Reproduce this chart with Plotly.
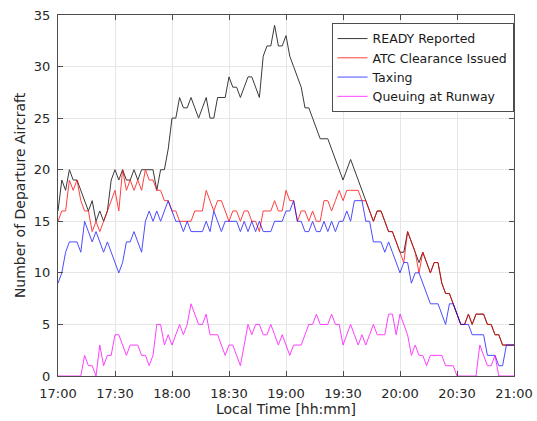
import plotly.graph_objects as go
import pandas as pd

# time axis: 17:00 to 21:00 every 2 minutes
times = pd.date_range("2021-01-01 17:00", "2021-01-01 21:00", freq="2min")

series_names = ["READY Reported", "ATC Clearance Issued", "Taxing", "Queuing at Runway"]

ready_reported = [
    16, 19, 18, 20, 19, 19, 18, 17, 16, 17,
    15, 16, 15, 16, 19, 20, 19, 20, 19, 19,
    20, 19, 20, 20, 20, 20, 18, 20, 20, 22,
    25, 25, 27, 26, 26, 27, 26, 25, 26, 27,
    25, 25, 27, 27, 27, 29, 28, 28, 27, 28,
    29, 29, 28, 27, 31, 32, 32, 34, 32, 32,
    33, 31, 30, 29, 28, 26, 26, 25, 24, 23,
    23, 23, 22, 21, 20, 19, 20, 21, 20, 19,
    18, 17, 16, 15, 16, 16, 15, 14, 14, 13,
    12, 12, 14, 13, 12, 11, 12, 11, 10, 11,
    11, 9, 8, 8, 7, 6, 5, 5, 6, 5,
    6, 6, 6, 5, 5, 4, 4, 3, 3, 3,
    3,
]

atc_clearance = [
    15, 16, 16, 19, 18, 19, 17, 16, 16, 14,
    15, 14, 15, 16, 17, 18, 16, 20, 18, 19,
    18, 19, 18, 20, 19, 19, 18, 18, 17, 17,
    16, 16, 15, 15, 15, 15, 16, 16, 16, 18,
    17, 16, 17, 17, 16, 15, 16, 16, 15, 16,
    16, 15, 15, 14, 16, 16, 16, 17, 16, 16,
    18, 17, 17, 15, 16, 16, 15, 16, 15, 15,
    17, 17, 16, 17, 18, 17, 18, 18, 18, 18,
    17, 17, 16, 15, 16, 16, 15, 14, 14, 13,
    12, 11, 14, 13, 12, 10, 12, 11, 10, 11,
    11, 9, 8, 8, 7, 6, 5, 5, 6, 5,
    6, 6, 6, 5, 5, 4, 4, 3, 3, 3,
    3,
]

taxing = [
    9, 10, 12, 13, 13, 13, 12, 15, 14, 13,
    14, 13, 12, 13, 12, 11, 10, 11, 13, 13,
    14, 13, 12, 15, 16, 15, 16, 15, 16, 17,
    16, 15, 15, 14, 15, 14, 14, 14, 14, 15,
    14, 16, 15, 14, 15, 15, 15, 15, 14, 15,
    14, 15, 14, 15, 14, 14, 14, 15, 15, 15,
    16, 16, 17, 15, 15, 14, 14, 15, 14, 14,
    15, 14, 15, 14, 15, 15, 16, 15, 17, 17,
    17, 15, 15, 13, 13, 13, 12, 13, 12, 11,
    10, 11, 11, 9, 10, 10, 9, 8, 7, 7,
    7, 6, 5, 7, 7, 6, 5, 5, 5, 4,
    4, 4, 4, 2, 2, 2, 1, 1, 3, 3,
    3,
]

queuing = [
    0, 0, 0, 0, 0, 0, 0, 2, 1, 1,
    0, 3, 1, 2, 2, 4, 4, 3, 2, 3,
    3, 3, 2, 2, 1, 2, 5, 5, 3, 4,
    3, 4, 5, 4, 5, 7, 6, 5, 5, 6,
    4, 4, 4, 3, 2, 3, 3, 2, 1, 3,
    5, 4, 5, 5, 4, 4, 5, 4, 3, 4,
    3, 2, 3, 3, 3, 4, 5, 5, 6, 5,
    5, 5, 6, 5, 5, 3, 4, 5, 4, 3,
    4, 3, 4, 5, 4, 4, 4, 6, 6, 4,
    6, 5, 4, 2, 3, 2, 2, 1, 2, 2,
    2, 2, 1, 1, 1, 0, 0, 0, 0, 0,
    0, 3, 2, 1, 1, 2, 0, 0, 0, 0,
    0,
]

line_colors = ["#3a3a3a", "#ff0000", "#0000ff", "#ff00ff"]
line_opacity = [1.0, 0.75, 0.7, 0.75]

x_tick_labels = ["17:00", "17:30", "18:00", "18:30", "19:00", "19:30", "20:00", "20:30", "21:00"]
x_tick_vals = [pd.Timestamp("2021-01-01 " + t) for t in x_tick_labels]
y_tick_vals = [0, 5, 10, 15, 20, 25, 30, 35]

fig = go.Figure()
for name, vals, col, op in zip(series_names, [ready_reported, atc_clearance, taxing, queuing],
                               line_colors, line_opacity):
    fig.add_trace(go.Scatter(x=times, y=vals, mode="lines", name=name, opacity=op,
                             line=dict(color=col, width=1)))

font_family = "DejaVu Sans"
axis_common = dict(
    showline=True, linecolor="#4d4d4d", linewidth=1, mirror="ticks",
    ticks="inside", ticklen=5, tickcolor="#4d4d4d",
    showgrid=True, gridcolor="#e6e6e6", gridwidth=1, zeroline=False,
    automargin=False,
    tickfont=dict(family=font_family, size=13, color="#262626"),
)

fig.update_layout(
    width=537, height=421,
    margin=dict(l=58, r=23, t=15, b=45),
    paper_bgcolor="white", plot_bgcolor="white",
    font=dict(family=font_family, color="#262626"),
    showlegend=True,
    legend=dict(
        x=0.999, xanchor="right", y=0.978, yanchor="top",
        bgcolor="white", bordercolor="#4d4d4d", borderwidth=1,
        font=dict(family=font_family, size=12.5, color="#1a1a1a"),
        tracegroupgap=0,
    ),
)
fig.update_xaxes(
    range=[x_tick_vals[0], x_tick_vals[-1]],
    tickvals=x_tick_vals, ticktext=x_tick_labels,
    ticklabelstandoff=5,
    title=dict(text="Local Time [hh:mm]", font=dict(family=font_family, size=14, color="#262626"), standoff=4),
    **axis_common,
)
fig.update_yaxes(
    range=[0, 35], tickvals=y_tick_vals,
    ticklabelstandoff=4,
    title=dict(text="Number of Departure Aircraft", font=dict(family=font_family, size=14, color="#262626"), standoff=4),
    **axis_common,
)

fig.write_html("out.html", config={"displayModeBar": False},
               post_script="document.body.style.margin='0';document.body.style.overflow='hidden';")
